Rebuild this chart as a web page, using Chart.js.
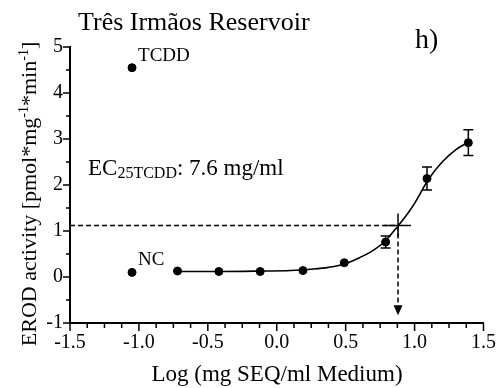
<!DOCTYPE html>
<html>
<head>
<meta charset="utf-8">
<script src="https://cdn.jsdelivr.net/npm/chart.js@4.4.1/dist/chart.umd.min.js"></script>
<style>
  html, body { margin: 0; padding: 0; background: #fff; }
  #wrap { width: 496px; height: 388px; position: relative; }
</style>
</head>
<body>
<div id="wrap"><canvas id="erodChart"></canvas></div>
<script>
// Data (x = log mg SEQ/ml medium, y = EROD activity)
const doseX = [-0.72, -0.42, -0.12, 0.19, 0.49, 0.79, 1.09, 1.39];
const doseY = [0.13, 0.12, 0.12, 0.14, 0.31, 0.76, 2.14, 2.92];
const doseErr = [0, 0, 0, 0, 0, 0.13, 0.25, 0.28];

// Controls plotted on the left
const controlNames = ['TCDD', 'NC'];
const controlX = [-1.05, -1.05];
const controlY = [4.55, 0.10];

// Fitted curve
const curveX = [-0.72, -0.4, -0.1, 0.1, 0.25, 0.375, 0.5, 0.6, 0.7, 0.78, 0.88, 0.95, 1.0, 1.1, 1.2, 1.3, 1.39];
const curveY = [0.12, 0.12, 0.13, 0.14, 0.17, 0.21, 0.29, 0.42, 0.58, 0.76, 1.11, 1.38, 1.6, 2.12, 2.5, 2.77, 2.93];

// EC25 TCDD read-off lines
const ecLogX = 0.88;
const ecLevel = 1.12;
const arrowTipY = -0.83;

const FONT = '"Liberation Serif", "Times New Roman", serif';

function pts(xs, ys) {
    return xs.map((x, i) => ({ x: x, y: ys[i] }));
}

// Draws text pieces with sub/superscripts, left to right
function drawRuns(ctx, runs, x, y) {
    let cx = x;
    runs.forEach(r => {
        ctx.font = r.size + 'px ' + FONT;
        ctx.fillText(r.t, cx, y + (r.dy || 0));
        cx += ctx.measureText(r.t).width;
    });
}
function runsWidth(ctx, runs) {
    let w = 0;
    runs.forEach(r => {
        ctx.font = r.size + 'px ' + FONT;
        w += ctx.measureText(r.t).width;
    });
    return w;
}

const decorPlugin = {
    id: 'decor',
    afterDatasetsDraw(chart) {
        const ctx = chart.ctx;
        const xs = chart.scales.x;
        const ys = chart.scales.y;
        ctx.save();
        ctx.strokeStyle = '#000';
        ctx.fillStyle = '#000';

        // Error bars
        ctx.lineWidth = 1.5;
        doseX.forEach((x, i) => {
            if (!doseErr[i]) return;
            const px = xs.getPixelForValue(x);
            const top = ys.getPixelForValue(doseY[i] + doseErr[i]);
            const bot = ys.getPixelForValue(doseY[i] - doseErr[i]);
            ctx.beginPath();
            ctx.moveTo(px, top); ctx.lineTo(px, bot);
            ctx.moveTo(px - 5, top); ctx.lineTo(px + 5, top);
            ctx.moveTo(px - 5, bot); ctx.lineTo(px + 5, bot);
            ctx.stroke();
        });

        // Cross at the EC25 point
        const cx = xs.getPixelForValue(ecLogX);
        const cy = ys.getPixelForValue(ecLevel);
        ctx.beginPath();
        ctx.moveTo(cx - 14, cy); ctx.lineTo(cx + 13, cy);
        ctx.moveTo(cx, cy - 12); ctx.lineTo(cx, cy + 11);
        ctx.stroke();

        // Arrow head
        const ay = ys.getPixelForValue(arrowTipY);
        ctx.beginPath();
        ctx.moveTo(cx, ay);
        ctx.lineTo(cx - 4.5, ay - 10);
        ctx.lineTo(cx + 4.5, ay - 10);
        ctx.closePath();
        ctx.fill();

        // Control labels next to their points
        const meta = chart.getDatasetMeta(1);
        ctx.font = '19px ' + FONT;
        ctx.textBaseline = 'alphabetic';
        meta.data.forEach((el, i) => {
            ctx.fillText(controlNames[i], el.x + 6, el.y - 7);
        });
        ctx.restore();
    },
    afterDraw(chart) {
        const ctx = chart.ctx;
        const xs = chart.scales.x;
        const ys = chart.scales.y;
        const area = chart.chartArea;
        ctx.save();
        ctx.strokeStyle = '#000';
        ctx.fillStyle = '#000';
        ctx.lineWidth = 1.5;

        // Tick marks, long on labelled values
        ctx.beginPath();
        xs.ticks.forEach(t => {
            const px = xs.getPixelForValue(t.value);
            const major = Math.abs(t.value * 2 - Math.round(t.value * 2)) < 1e-6;
            ctx.moveTo(px, area.bottom);
            ctx.lineTo(px, area.bottom + (major ? 8 : 5));
        });
        ys.ticks.forEach(t => {
            const py = ys.getPixelForValue(t.value);
            const major = Math.abs(t.value - Math.round(t.value)) < 1e-6;
            ctx.moveTo(area.left, py);
            ctx.lineTo(area.left - (major ? 7 : 4), py);
        });
        ctx.stroke();

        ctx.textBaseline = 'alphabetic';
        ctx.textAlign = 'left';

        // Title and panel letter
        ctx.font = '26px ' + FONT;
        ctx.fillText('Três Irmãos Reservoir', 78, 30);
        ctx.font = '28px ' + FONT;
        ctx.fillText('h)', 415, 48);

        // EC25 note
        drawRuns(ctx, [
            { t: 'EC', size: 23 },
            { t: '25TCDD', size: 16, dy: 3 },
            { t: ': 7.6 mg/ml', size: 23 }
        ], 88, 175);

        // X axis title
        ctx.font = '23px ' + FONT;
        ctx.textAlign = 'center';
        ctx.fillText('Log (mg SEQ/ml Medium)', 277, 381);

        // Y axis title, rotated
        ctx.textAlign = 'left';
        const yRuns = [
            { t: 'EROD activity [pmol*mg', size: 22 },
            { t: '-1', size: 14, dy: -8 },
            { t: '*min', size: 22 },
            { t: '-1', size: 14, dy: -8 },
            { t: ']', size: 22 }
        ];
        ctx.translate(36, 194);
        ctx.rotate(-Math.PI / 2);
        drawRuns(ctx, yRuns, -runsWidth(ctx, yRuns) / 2, 0);
        ctx.restore();
    }
};

new Chart(document.getElementById('erodChart'), {
    type: 'scatter',
    data: {
        datasets: [
            {
                // samples
                data: pts(doseX, doseY),
                backgroundColor: '#000',
                borderColor: '#000',
                pointRadius: 4,
                showLine: false
            },
            {
                // TCDD and NC controls
                data: pts(controlX, controlY),
                backgroundColor: '#000',
                borderColor: '#000',
                pointRadius: 4,
                showLine: false
            },
            {
                // fit
                data: pts(curveX, curveY),
                showLine: true,
                borderColor: '#000',
                borderWidth: 1.6,
                pointRadius: 0,
                cubicInterpolationMode: 'monotone',
                fill: false
            },
            {
                // dashed read-off
                data: [
                    { x: -1.5, y: ecLevel },
                    { x: ecLogX, y: ecLevel },
                    { x: ecLogX, y: arrowTipY + 0.2 }
                ],
                showLine: true,
                borderColor: '#000',
                borderWidth: 1.5,
                borderDash: [5, 3],
                pointRadius: 0,
                tension: 0,
                fill: false
            }
        ]
    },
    options: {
        responsive: true,
        maintainAspectRatio: false,
        animation: false,
        layout: { padding: { left: 0, right: 10, top: 47, bottom: 0 } },
        plugins: {
            legend: { display: false },
            tooltip: { enabled: false }
        },
        scales: {
            x: {
                type: 'linear',
                min: -1.5,
                max: 1.5,
                afterFit: s => { s.height = 65; },
                border: { display: true, color: '#000', width: 2 },
                grid: { drawOnChartArea: false, drawTicks: true, tickLength: 8, color: 'transparent' },
                ticks: {
                    stepSize: 0.125,
                    autoSkip: false,
                    maxRotation: 0,
                    padding: 0,
                    color: '#000',
                    font: { family: FONT, size: 20 },
                    callback: v => Math.abs(v * 2 - Math.round(v * 2)) < 1e-6 ? v.toFixed(1) : ''
                }
            },
            y: {
                min: -1,
                max: 5,
                afterFit: s => { s.width = 70; },
                border: { display: true, color: '#000', width: 2 },
                grid: { drawOnChartArea: false, drawTicks: true, tickLength: 7, color: 'transparent' },
                ticks: {
                    stepSize: 0.5,
                    autoSkip: false,
                    padding: 0,
                    color: '#000',
                    font: { family: FONT, size: 20 },
                    callback: v => Math.abs(v - Math.round(v)) < 1e-6 ? String(Math.round(v)) : ''
                }
            }
        }
    },
    plugins: [decorPlugin]
});
</script>
</body>
</html>
